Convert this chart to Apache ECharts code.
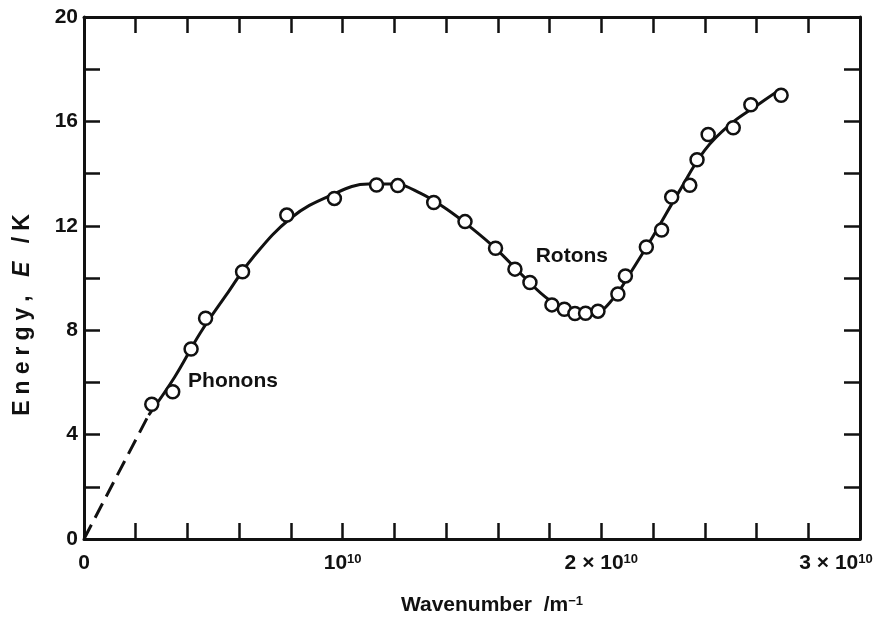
<!DOCTYPE html>
<html>
<head>
<meta charset="utf-8">
<script src="https://cdn.jsdelivr.net/npm/echarts@6/dist/echarts.min.js"></script>
<style>
  html, body { margin: 0; padding: 0; background: #fff; }
  #chart { width: 879px; height: 623px; }
</style>
</head>
<body>
<div id="chart"></div>
<script>
// wavenumber in units of 1e10 m^-1, energy in K
var measuredK = [0.262, 0.343, 0.414, 0.470, 0.613, 0.784, 0.968, 1.131, 1.213, 1.352,
                 1.473, 1.591, 1.666, 1.724, 1.809, 1.857, 1.898, 1.939, 1.987, 2.064,
                 2.093, 2.174, 2.233, 2.272, 2.342, 2.370, 2.413, 2.510, 2.578, 2.695];
var measuredE = [5.16, 5.64, 7.28, 8.46, 10.24, 12.41, 13.05, 13.56, 13.54, 12.89,
                 12.16, 11.14, 10.34, 9.83, 8.97, 8.80, 8.64, 8.65, 8.73, 9.39,
                 10.08, 11.19, 11.84, 13.10, 13.55, 14.53, 15.50, 15.76, 16.64, 17.00];

// fitted dispersion curve
var curveK = [0.25, 0.35, 0.45, 0.55, 0.65, 0.8, 0.95, 1.1, 1.2, 1.3, 1.4, 1.5, 1.6,
              1.7, 1.8, 1.9, 1.97, 2.05, 2.1, 2.2, 2.3, 2.4, 2.5, 2.6, 2.68];
var curveE = [4.75, 6.2, 7.9, 9.35, 10.75, 12.3, 13.15, 13.6, 13.6, 13.25, 12.65, 11.9, 11.05,
              10.05, 9.15, 8.65, 8.65, 9.25, 10.0, 11.6, 13.3, 14.9, 15.9, 16.6, 17.15];

// extrapolated phonon branch (dashed)
var dashK = [0, 0.25];
var dashE = [0, 4.75];

var noteNames = ['Phonons', 'Rotons'];
var noteK = [0.576, 1.886];
var noteE = [6.05, 10.84];

function zip(a, b) {
    return a.map(function (v, i) { return [v, b[i]]; });
}

var font = "'Liberation Sans', Arial, sans-serif";
var ink = '#111';

function txt(size, extra) {
    var s = { fontFamily: font, fontSize: size, fontWeight: 'bold', color: ink };
    for (var k in extra) s[k] = extra[k];
    return s;
}

function xLabel(v) {
    if (Math.abs(v) < 1e-6) return '{n|0}';
    if (Math.abs(v - 1) < 1e-6) return '{n|10}{s|10}';
    if (Math.abs(v - 2) < 1e-6) return '{n|2 × 10}{s|10}';
    if (Math.abs(v - 3) < 1e-6) return '{n|3 × 10}{s|10}{gap|}';
    return '';
}

// spread the y title out like the typeset original
function spaced(str) {
    return str.split('').map(function (c) { return '{a|' + c + '}'; }).join('');
}

var yTitle = spaced('Energy, ') + '{i|E}' + spaced(' /K');

var chart = echarts.init(document.getElementById('chart'));
var frameLine = { show: true, onZero: false, lineStyle: { color: ink, width: 3 } };
var inTick = { show: true, inside: true, length: 16, lineStyle: { color: ink, width: 2.5 } };

var option = {
    backgroundColor: '#fff',
    animation: false,
    grid: { left: 84, right: 19, top: 17, bottom: 84, containLabel: false, outerBoundsMode: 'none' },
    xAxis: [
        {
            type: 'value', min: 0, max: 3, interval: 0.2,
            name: '{a|Wavenumber  /m}{s|−1}',
            nameLocation: 'middle', nameGap: 56,
            nameTextStyle: {
                padding: [0, 0, 0, 40],
                rich: { a: txt(21), s: txt(13, { verticalAlign: 'top' }) }
            },
            axisLine: frameLine, axisTick: inTick, splitLine: { show: false },
            axisLabel: {
                formatter: xLabel, margin: 14,
                rich: {
                    n: txt(21),
                    s: txt(13, { verticalAlign: 'top' }),
                    gap: { width: 48 }
                }
            }
        },
        {
            type: 'value', min: 0, max: 3, interval: 0.2, position: 'top',
            axisLine: frameLine, axisTick: inTick, splitLine: { show: false },
            axisLabel: { show: false }
        }
    ],
    yAxis: [
        {
            type: 'value', min: 0, max: 20, interval: 2,
            name: yTitle,
            nameLocation: 'middle', nameGap: 50, nameRotate: 90,
            nameTextStyle: {
                padding: [0, 74, 0, 0],
                rich: {
                    a: txt(23, { padding: [0, 3, 0, 3] }),
                    i: txt(23, { fontStyle: 'italic', padding: [0, 3, 0, 3] })
                }
            },
            axisLine: frameLine, axisTick: inTick, splitLine: { show: false },
            axisLabel: txt(21, {
                margin: 6,
                formatter: function (v) { return v % 4 === 0 ? String(v) : ''; }
            })
        },
        {
            type: 'value', min: 0, max: 20, interval: 2, position: 'right',
            axisLine: frameLine, axisTick: inTick, splitLine: { show: false },
            axisLabel: { show: false }
        }
    ],
    series: [
        {
            type: 'line', data: zip(dashK, dashE), symbol: 'none',
            lineStyle: { color: ink, width: 3, type: [16, 8] }
        },
        {
            type: 'line', data: zip(curveK, curveE), symbol: 'none', smooth: 0.4,
            lineStyle: { color: ink, width: 3 }
        },
        {
            type: 'scatter', data: zip(measuredK, measuredE), symbol: 'circle', symbolSize: 13,
            itemStyle: { color: '#fff', borderColor: ink, borderWidth: 2.5, opacity: 1 }, z: 5
        },
        {
            type: 'scatter', symbolSize: 0, silent: true,
            itemStyle: { opacity: 1 },
            data: noteNames.map(function (n, i) { return { name: n, value: [noteK[i], noteE[i]] }; }),
            label: txt(21, { show: true, position: 'inside', formatter: '{b}', textBorderWidth: 0 })
        }
    ]
};
chart.setOption(option);
</script>
</body>
</html>
